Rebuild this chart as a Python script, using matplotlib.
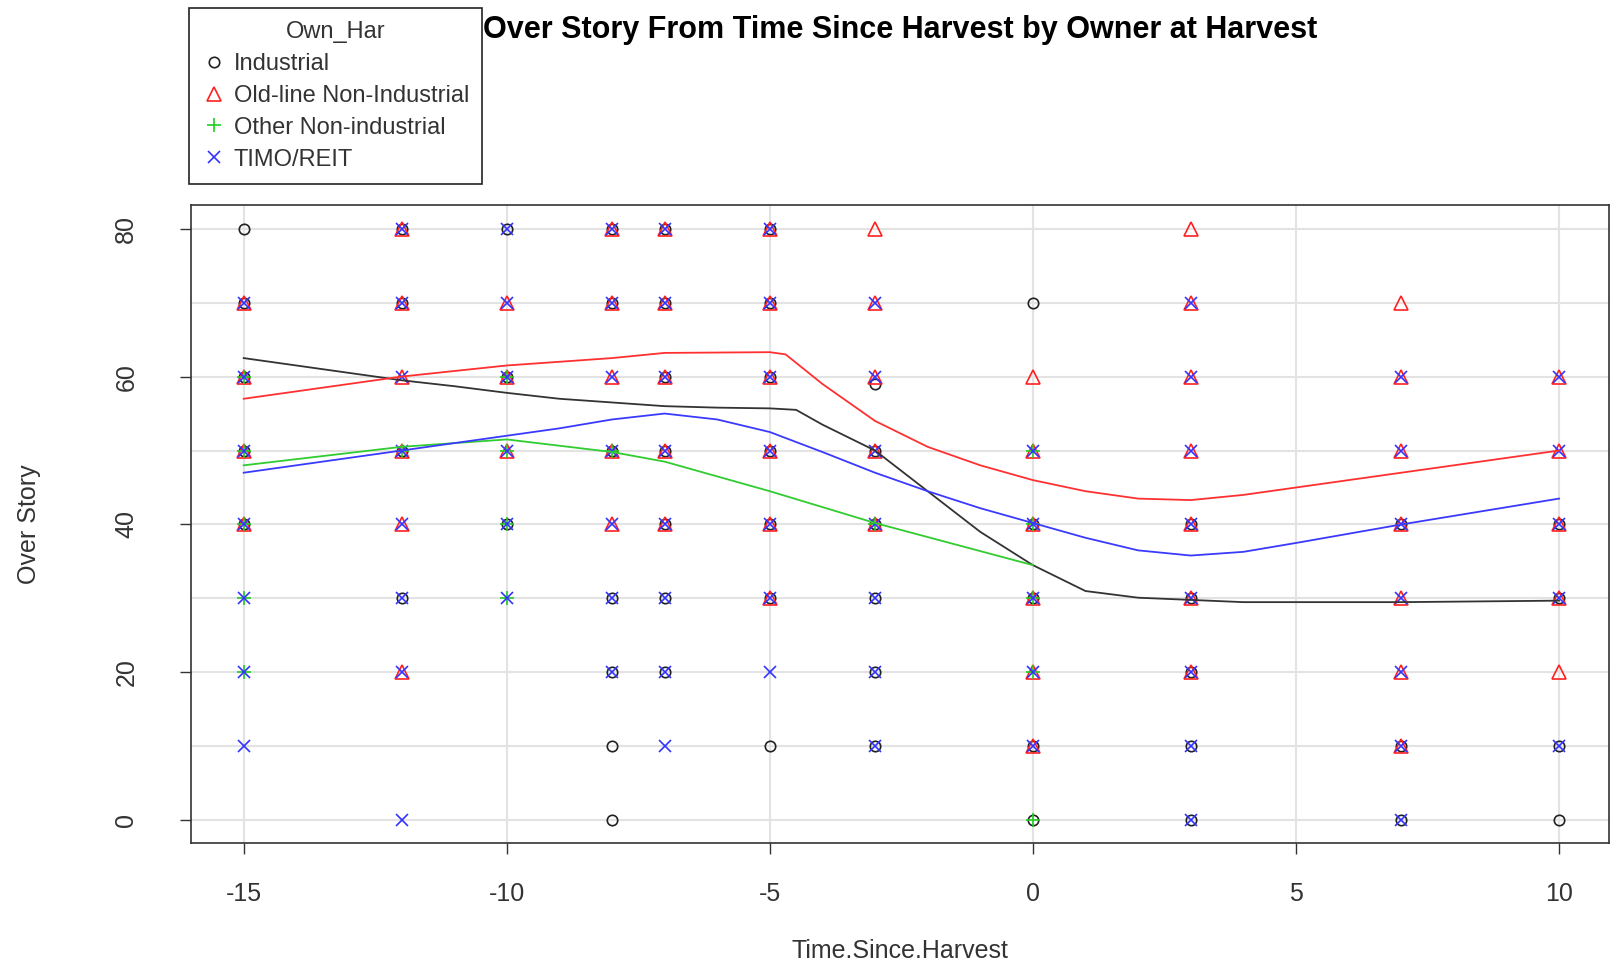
import matplotlib
matplotlib.use("Agg")
import matplotlib.pyplot as plt

plt.rcParams['font.family'] = ['Liberation Sans', 'DejaVu Sans']

# ---- data ----
groups = ["Industrial", "Old-line Non-Industrial", "Other Non-industrial", "TIMO/REIT"]

ind_x = [-15, -15, -15, -15, -15,
         -12, -12, -12, -12,
         -10, -10, -10,
         -8, -8, -8, -8, -8, -8, -8,
         -7, -7, -7, -7, -7, -7, -7,
         -5, -5, -5, -5, -5, -5, -5,
         -3, -3, -3, -3, -3, -3,
         0, 0, 0, 0, 0,
         3, 3, 3, 3, 3,
         7, 7, 7,
         10, 10, 10, 10]
ind_y = [80, 70, 60, 50, 40,
         80, 70, 50, 30,
         80, 60, 40,
         80, 50, 30, 20, 10, 0, 70,
         80, 70, 60, 50, 40, 30, 20,
         80, 70, 60, 50, 40, 30, 10,
         59, 50, 40, 30, 20, 10,
         70, 40, 30, 10, 0,
         40, 30, 20, 10, 0,
         40, 10, 0,
         40, 30, 10, 0]

old_x = [-15, -15, -15, -15,
         -12, -12, -12, -12, -12, -12,
         -10, -10, -10,
         -8, -8, -8, -8, -8,
         -7, -7, -7, -7, -7,
         -5, -5, -5, -5, -5, -5,
         -3, -3, -3, -3, -3,
         0, 0, 0, 0, 0, 0,
         3, 3, 3, 3, 3, 3, 3,
         7, 7, 7, 7, 7, 7, 7,
         10, 10, 10, 10, 10]
old_y = [70, 60, 50, 40,
         80, 70, 60, 50, 40, 20,
         70, 60, 50,
         80, 70, 60, 50, 40,
         80, 70, 60, 50, 40,
         80, 70, 60, 50, 40, 30,
         80, 70, 60, 50, 40,
         60, 50, 40, 30, 20, 10,
         80, 70, 60, 50, 40, 30, 20,
         70, 60, 50, 40, 30, 20, 10,
         60, 50, 40, 30, 20]

oth_x = [-15, -15, -15, -15, -15, -12, -10, -10, -10, -10, -8, -3, 0, 0, 0, 0, 0]
oth_y = [60, 50, 40, 30, 20, 50, 60, 50, 40, 30, 50, 40, 50, 40, 30, 20, 0]

timo_x = [-15, -15, -15, -15, -15, -15, -15,
          -12, -12, -12, -12, -12, -12, -12, -12,
          -10, -10, -10, -10, -10, -10,
          -8, -8, -8, -8, -8, -8, -8,
          -7, -7, -7, -7, -7, -7, -7, -7,
          -5, -5, -5, -5, -5, -5, -5,
          -3, -3, -3, -3, -3, -3, -3,
          0, 0, 0, 0, 0,
          3, 3, 3, 3, 3, 3, 3, 3,
          7, 7, 7, 7, 7, 7, 7,
          10, 10, 10, 10, 10]
timo_y = [70, 60, 50, 40, 30, 20, 10,
          80, 70, 60, 50, 40, 30, 20, 0,
          80, 70, 60, 50, 40, 30,
          80, 70, 60, 50, 40, 30, 20,
          80, 70, 60, 50, 40, 30, 20, 10,
          80, 70, 60, 50, 40, 30, 20,
          70, 60, 50, 40, 30, 20, 10,
          50, 40, 30, 20, 10,
          70, 60, 50, 40, 30, 20, 10, 0,
          60, 50, 40, 30, 20, 10, 0,
          60, 50, 40, 30, 10]

# smoother curves (read at sample points)
ind_sx = [-15, -14, -13, -12, -11, -10, -9, -8, -7, -6, -5, -4.5, -4, -3, -2, -1, 0, 1, 2, 3, 4, 5, 7, 10]
ind_sy = [62.5, 61.5, 60.5, 59.5, 58.7, 57.8, 57.0, 56.5, 56.0, 55.8, 55.7, 55.5, 53.5, 50.0, 44.5, 39.0,
          34.5, 31.0, 30.1, 29.8, 29.5, 29.5, 29.5, 29.7]
old_sx = [-15, -12, -10, -8, -7, -5, -4.7, -4, -3, -2, -1, 0, 1, 2, 3, 4, 5, 7, 10]
old_sy = [57.0, 60.0, 61.5, 62.5, 63.2, 63.3, 63.0, 59.0, 54.0, 50.5, 48.0, 46.0, 44.5, 43.5, 43.3, 44.0, 45.0, 47.0, 50.0]
oth_sx = [-15, -12, -10, -8, -7, -5, -3, 0]
oth_sy = [48.0, 50.5, 51.5, 49.8, 48.5, 44.5, 40.2, 34.5]
timo_sx = [-15, -12, -10, -9, -8, -7, -6, -5, -4, -3, -2, -1, 0, 1, 2, 3, 4, 5, 7, 10]
timo_sy = [47.0, 50.0, 52.0, 53.0, 54.2, 55.0, 54.2, 52.5, 49.8, 47.0, 44.5, 42.2, 40.2, 38.2, 36.5, 35.8, 36.3,
           37.5, 40.0, 43.5]

xticks = [-15, -10, -5, 0, 5, 10]
yticks = [0, 20, 40, 60, 80]

fig = plt.figure(figsize=(16.22, 9.67), dpi=100)
ax = fig.add_axes([0.1178, 0.128, 0.8742, 0.660])

for t in xticks:
    ax.axvline(t, color='#e3e3e3', lw=1.5, zorder=0)
for t in range(0, 90, 10):
    ax.axhline(t, color='#e3e3e3', lw=1.5, zorder=0)

ax.plot(ind_x, ind_y, 'o', mfc='none', mec='#222222', ms=7.5, mew=1.2, ls='none', label=groups[0])
ax.plot(old_x, old_y, '^', mfc='none', mec='#ff2020', ms=9.5, mew=1.2, ls='none', label=groups[1])
ax.plot(oth_x, oth_y, '+', color='#22cc22', ms=10, mew=1.2, ls='none', label=groups[2])
ax.plot(timo_x, timo_y, 'x', color='#3333ff', ms=8.5, mew=1.2, ls='none', label=groups[3])

ax.plot(ind_sx, ind_sy, color='#333333', lw=1.3)
ax.plot(old_sx, old_sy, color='#ff3030', lw=1.3)
ax.plot(oth_sx, oth_sy, color='#30cc30', lw=1.3)
ax.plot(timo_sx, timo_sy, color='#3a3aff', lw=1.3)

ax.set_xlim(-16.0, 10.95)
ax.set_ylim(-3.1, 83.2)
ax.set_xticks(xticks)
ax.set_yticks(yticks)
ax.set_xticklabels([str(t) for t in xticks])
ax.set_yticklabels([str(t) for t in yticks], rotation=90, va='center')
ax.tick_params(direction='out', length=8, width=1, colors='#333333', labelsize=18)
ax.tick_params(axis='x', pad=20)
ax.tick_params(axis='y', pad=30)
for s in ax.spines.values():
    s.set_color('#333333')
    s.set_linewidth(1.2)

ax.set_xlabel('Time.Since.Harvest', fontsize=18, color='#333333', va='center')
ax.set_ylabel('Over Story', fontsize=18, color='#333333', va='center')
ax.xaxis.set_label_coords(0.5, -0.169)
ax.yaxis.set_label_coords(-0.114, 0.5)

fig.text(0.555, 0.969, 'Over Story From Time Since Harvest by Owner at Harvest',
         ha='center', va='center', fontsize=22, fontweight='bold')

leg = fig.legend(loc='upper left', bbox_to_anchor=(189 / 1622, 1 - 8 / 967),
                 title='Own_Har', fontsize=17, title_fontsize=17, frameon=True,
                 fancybox=False, edgecolor='#222222', framealpha=1, borderaxespad=0,
                 handletextpad=0.35, handlelength=1.0, borderpad=0.55, labelspacing=0.42)
leg.get_frame().set_linewidth(1.2)
for txt in leg.get_texts():
    txt.set_color('#333333')
leg.get_title().set_color('#333333')

fig.savefig('out.png', dpi=100)
